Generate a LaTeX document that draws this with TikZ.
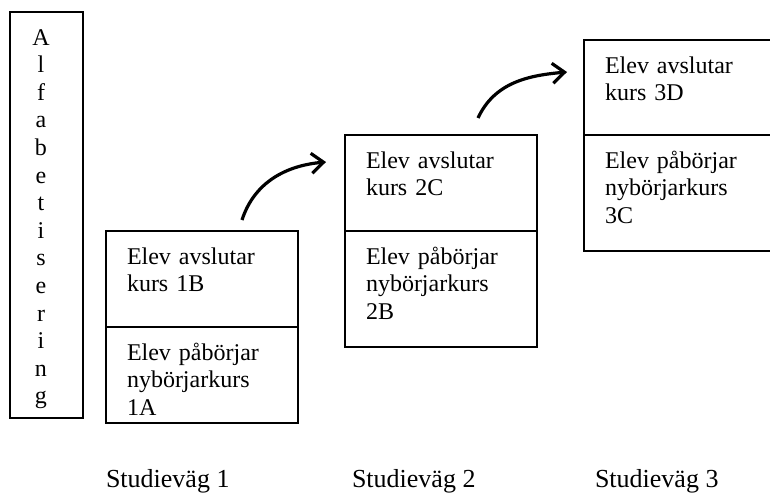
\documentclass[tikz,border=0pt]{standalone}
\usepackage{fontspec}
\setmainfont{Liberation Serif}
\usetikzlibrary{positioning}
\usetikzlibrary{arrows.meta}

\begin{document}
\begin{tikzpicture}[
		x=0.5pt, y=-0.5pt,
		every node/.append style={
			font=\fontsize{12pt}{13.8pt}\selectfont,
			outer sep=0pt,
		},
		section/.style={
			draw=black,
			line width=0.75pt,
			anchor=north west,
			text width=75pt,
			align=left,
			inner xsep=10.5pt,
			inner ysep=0pt,
			text height=16.5pt,
			text depth=#1,
		},
		section/.default=31.5pt,
		waylabel/.style={anchor=base west,inner sep=0pt,font=\fontsize{13pt}{15pt}\selectfont},
		flow/.style={-{Straight Barb[length=6pt,width=10pt]},line width=1.6pt},
	]
	\useasboundingbox (0,0) rectangle (770,493);
	\clip (0,0) rectangle (770,493);
	% left column
	\node[anchor=north west,text width=31pt,align=center,
		inner sep=0pt,text height=16.5pt,text depth=186.5pt] (alfa) at (10,12)
		{A\\l\\f\\a\\b\\e\\t\\i\\s\\e\\r\\i\\n\\g};
	\draw[line width=0.75pt] (alfa.north west) rectangle ([xshift=5.5pt]alfa.south east);
	% the three steps
	\node[section] (avslut1) at (106,231) {Elev avslutar\\kurs 1B};
	\node[section,below=0pt of avslut1] (pabor1) {Elev påbörjar\\nybörjarkurs\\1A};
	\node[section,right=23.5pt of avslut1.north east,anchor=south west] (avslut2) {Elev avslutar\\kurs 2C};
	\node[section=41.5pt,below=0pt of avslut2] (pabor2) {Elev påbörjar\\nybörjarkurs\\2B};
	\node[section=31pt,right=23.5pt of avslut2.north east,anchor=south west] (avslut3) {Elev avslutar\\kurs 3D};
	\node[section=41.5pt,below=0pt of avslut3] (pabor3) {Elev påbörjar\\nybörjarkurs\\3C};
	% labels under the steps
	\node[waylabel] (vag1) at (106,487) {Studieväg 1};
	\node[waylabel] (vag2) at (352,487) {Studieväg 2};
	\node[waylabel] (vag3) at (595,487) {Studieväg 3};
	% the arrows between steps
	\draw[flow] ([xshift=20pt,yshift=5.5pt]avslut1.north) to[out=72,in=185] ([xshift=-9.5pt,yshift=-13.5pt]avslut2.north west);
	\draw[flow] ([xshift=18.5pt,yshift=8.5pt]avslut2.north) to[out=65,in=185] ([xshift=-8.5pt,yshift=-16pt]avslut3.north west);
\end{tikzpicture}
\end{document}
